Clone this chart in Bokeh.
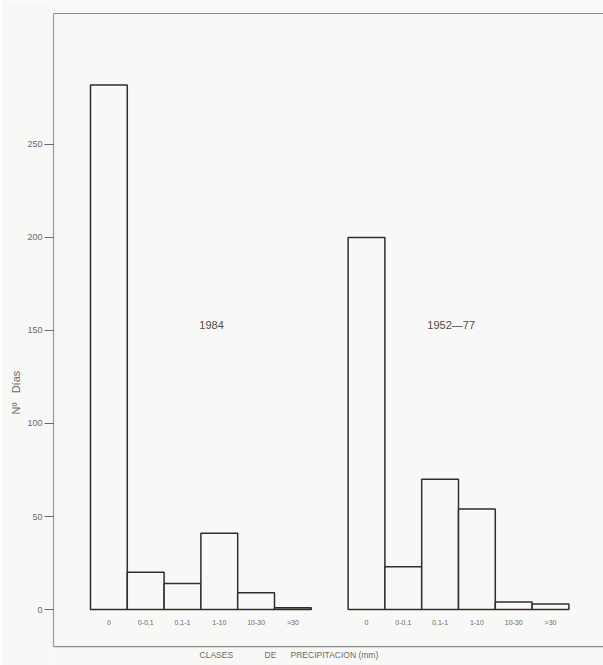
from bokeh.plotting import figure
from bokeh.models import ColumnDataSource, FixedTicker, Span, Range1d, LinearAxis
from bokeh.core.properties import value
from bokeh.embed import file_html
from bokeh.resources import INLINE

# Precipitation classes (mm) and number of days in each class
clases = ["0", "0-0,1", "0,1-1", "1-10", "10-30", ">30"]
dias_1984 = [282, 20, 14, 41, 9, 1]
dias_1952_77 = [200, 23, 70, 54, 4, 3]
y_ticks = [0, 50, 100, 150, 200, 250]

FONT = "Liberation Sans"
INK = "#2e2e2e"
GREY = "#6a6a6a"
PAPER = "#f8f8f6"
NBSP = "\u00a0"

# each group of bars starts at its own offset on a shared x scale
group_offset = {"1984": 0, "1952-77": 7}

left, right, top, lab_x, lab_txt = [], [], [], [], []
for name, vals in (("1984", dias_1984), ("1952-77", dias_1952_77)):
    off = group_offset[name]
    for i, (c, v) in enumerate(zip(clases, vals)):
        left.append(off + i)
        right.append(off + i + 1)
        top.append(v)
        lab_x.append(off + i + 0.5)
        lab_txt.append(c)

bars = ColumnDataSource(dict(left=left, right=right, top=top, bottom=[0] * len(top)))
ticklabs = ColumnDataSource(dict(x=lab_x, y=[-7.2] * len(lab_x), text=lab_txt))

p = figure(width=603, height=665, output_backend="svg", toolbar_location=None,
           x_range=Range1d(-1.005, 13.94), y_range=Range1d(-30.1, 327.4),
           min_border_left=53, min_border_right=0, min_border_top=0, min_border_bottom=0,
           background_fill_color=PAPER, border_fill_color=PAPER,
           x_axis_location=None)
p.outline_line_color = None
p.grid.visible = False

# y axis with the day counts
ax = p.yaxis[0]
ax.ticker = FixedTicker(ticks=y_ticks)
ax.bounds = (-19.9, 320.4)
ax.axis_line_color = "#9a9a9a"
ax.axis_line_width = 1.2
ax.major_tick_out = 9
ax.major_tick_in = 0
ax.major_tick_line_color = GREY
ax.minor_tick_line_color = None
ax.major_label_text_font = FONT
ax.major_label_text_font_size = "9px"
ax.major_label_text_color = GREY
ax.major_label_standoff = 2

# bare axis that only carries the y title; trailing no-break spaces push
# the visible words below the middle of the axis
y_title = "Nº" + NBSP * 3 + "Días" + NBSP * 39
title_ax = LinearAxis(ticker=FixedTicker(ticks=[]),
                      axis_line_color=None, major_tick_line_color=None,
                      minor_tick_line_color=None, major_label_text_font_size="0px",
                      axis_label=y_title, axis_label_text_font=FONT,
                      axis_label_text_font_size="11px", axis_label_text_font_style="normal",
                      axis_label_text_color=GREY, axis_label_standoff=3)
p.add_layout(title_ax, "left")

# frame lines at top and bottom
p.add_layout(Span(location=320.4, dimension="width", line_color="#8a8a8a", line_width=1.2))
p.add_layout(Span(location=-19.9, dimension="width", line_color="#8a8a8a", line_width=1.2))

# histogram bars
p.quad(left="left", right="right", top="top", bottom="bottom", source=bars,
       fill_color=PAPER, line_color=INK, line_width=1.5)

# class labels under the bars
p.text(x="x", y="y", text="text", source=ticklabs, text_font=value(FONT),
       text_font_size="7px", text_color=GREY, text_align="center", text_baseline="middle")

# group titles
p.text(x=[3.29, 9.8], y=[153, 153], text=["1984", "1952—77"], text_font=value(FONT),
       text_font_size="11px", text_color="#4a4a4a", text_align="center", text_baseline="middle")

# x axis title, three words spread out
p.text(x=[3.42, 4.89, 6.66], y=[-24.7] * 3, text=["CLASES", "DE", "PRECIPITACION  (mm)"],
       text_font=value(FONT), text_font_size="8.5px", text_color=GREY,
       text_align="center", text_baseline="middle")

open("out.html", "w").write(file_html(p, INLINE))
